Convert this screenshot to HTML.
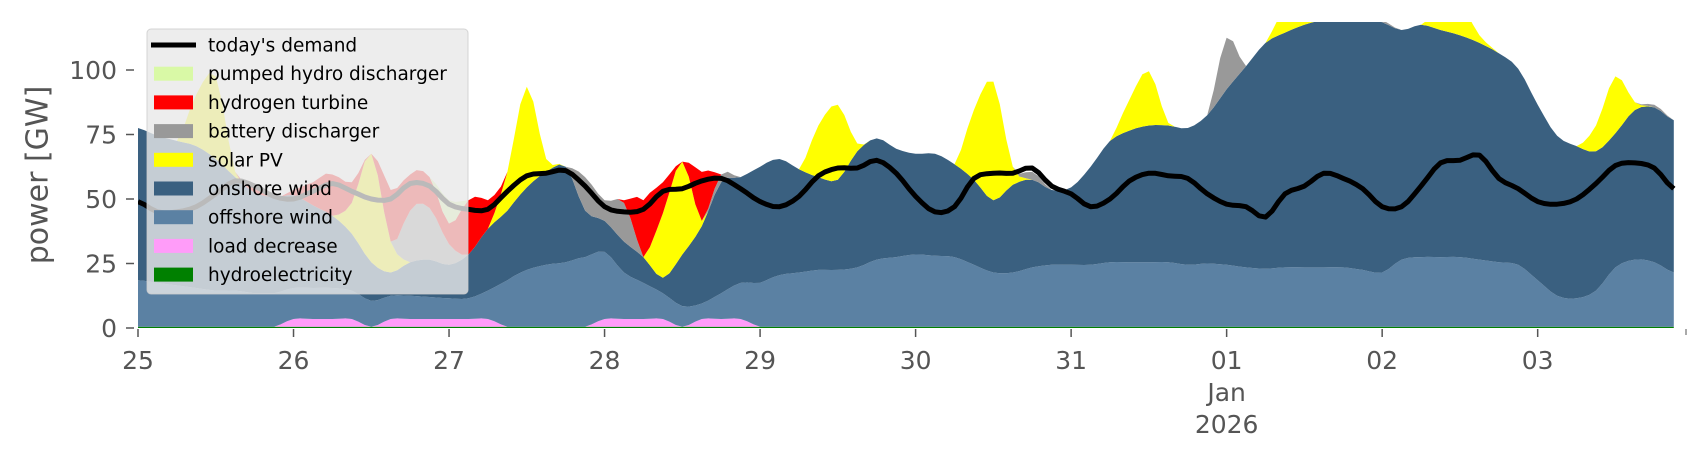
<!DOCTYPE html>
<html><head><meta charset="utf-8"><style>
html,body{margin:0;padding:0;background:#fff;}
svg{display:block;font-family:"DejaVu Sans","Liberation Sans",sans-serif;}
</style></head><body>
<svg id="chart" width="1706" height="460" viewBox="0 0 1706 460" xmlns="http://www.w3.org/2000/svg">
<defs><clipPath id="pc"><rect x="138" y="22" width="1549" height="306"/></clipPath></defs>
<g id="areas" clip-path="url(#pc)"></g>
<g id="demandg" clip-path="url(#pc)"></g>
<g id="axes"></g>
<text x="38" y="175" transform="rotate(-90 38 175)" font-size="30" fill="#555" text-anchor="middle" dominant-baseline="central">power [GW]</text>
<g id="legend"></g>
</svg>
<script>
const hours = [];
for (let i = 0; i < 80; i++) hours.push(i * 3);
const hydro = new Array(80).fill(0.5);
const loadDecrease = [0,0,0,0,0,0,0,0,3,3, 3,3,0,3,3,3,3,3,3,0, 0,0,0,0,3,3,3,3,0,3, 3,3,0,0,0,0,0,0,0,0, 0,0,0,0,0,0,0,0,0,0, 0,0,0,0,0,0,0,0,0,0, 0,0,0,0,0,0,0,0,0,0, 0,0,0,0,0,0,0,0,0,0];
const offshore = [18,17,16,15,14,14,13,13,12,12, 12,11,10,9,9,8.5,8,8,11,18, 22,24,25,27,26,18,14,10,8,6, 10,14,17,20,21,22,22,23,26,27, 28,27.5,27,24,21,21,23,24,24,24, 25,25,25,25,24,24.5,24,23,22.5,23, 23,23,23,22,21,26,27,27,27,26, 25,24,18,12,11,14,23,26,25,21];
const windTop = [77,74,72,70,65,58,52,50,48,44, 40,33,25,18,22,23,21,25,35,45, 54,60,62,45,38,30,24,16,28,36, 53,55,62,65,61,58,57,68,73,69, 67,67,63,57,49,55,57,53,54,62, 72,76,78,78,77,82,92,101,110,114, 117,119,120,120,118,115,117,115,113,110, 106,100,86,74,70,68,75,84,85,80];
const solar = [0,0,0,20,32,2,0,0,0,0, 0,12,42,12,0,0,0,0,0,15, 39,5,0,0,0,0,0,25,36,2, 0,0,0,0,0,20,29,3,0,0, 0,0,0,27,46,7,0,0,0,0, 0,12,21,1,0,0,0,0,0,10, 15,3,0,0,0,0,0,8,12,3, 0,0,0,0,0,10,22,3,0,0];
const battery = [0,0,0,0,0,0,0,0,0,0, 0,0,0,0,20,20,8,0,0,0, 0,0,0,13,8,15,0,0,0,0, 3,0,0,0,0,0,0,0,0,0, 0,0,0,0,0,0,3,0,0,0, 0,0,0,0,0,0,20,0,0,0, 0,0,2,2,1,0,0,0,0,0, 0,0,0,0,0,0,0,0,1,0];
const hydrogen = [0,0,0,0,0,0,3,0,2,9, 16,8,0,20,14,12,8,21,11,0, 0,0,0,0,0,1,22,12,0,19, 0,0,0,0,0,0,0,0,0,0, 0,0,0,0,0,0,0,0,0,0, 0,0,0,0,0,0,0,0,0,0, 0,0,0,0,0,0,0,0,0,0, 0,0,0,0,0,0,0,0,0,0];
const pumped = [0,0,0,0,0,0,0,0,0,0, 0,0,0,0,0,0,9,0,0,0, 0,0,0,0,0,0,0,0,0,0, 0,0,0,0,0,0,0,0,0,0, 0,0,0,0,0,0,0,0,0,0, 0,0,0,0,0,0,0,0,0,0, 0,0,0,0,0,0,0,0,0,0, 0,0,0,0,0,0,0,0,0,0];
const demand = [49,45,45,47,52,57,55,51,50,53, 56,53,50,50,56,55,48,46,46,53, 59,60,61,55,47,45,46,53,54,57, 58,54,49,47,51,59,62,62,65,60, 51,45,47,58,60,60,62,55,52,47, 50,57,60,59,58,52,48,47,43,52, 55,60,58,54,47,47,55,64,65,67, 58,54,49,48,50,56,63,64,62,54];
const yTicks = [0,25,50,75,100];
const xTickLabels = ["25","26","27","28","29","30","31","01","02","03"];

const NS = "http://www.w3.org/2000/svg";
function X(h){ return 138 + h * 6.48; }
function Y(v){ return 328 - v * 2.58; }
// Catmull-Rom resampling to hourly for smooth rendering
function resample(arr){
  const out = [], n = arr.length;
  for (let k = 0; k <= (n-1)*3; k++) {
    const t = k/3, i = Math.min(Math.floor(t), n-2), f = t - i;
    const p0 = arr[Math.max(i-1,0)], p1 = arr[i], p2 = arr[i+1], p3 = arr[Math.min(i+2,n-1)];
    const v = 0.5*((2*p1) + (-p0+p2)*f + (2*p0-5*p1+4*p2-p3)*f*f + (-p0+3*p1-3*p2+p3)*f*f*f);
    out.push(Math.max(0, v));
  }
  return out;
}
const fineHours = [];
for (let k = 0; k <= 79*3; k++) fineHours.push(k);
const onshore = windTop.map((t,i)=>Math.max(0, t - offshore[i]));
const layers = [
  {name:"hydroelectricity", vals:hydro, color:"#008000"},
  {name:"load decrease", vals:loadDecrease, color:"#ff9cf9"},
  {name:"offshore wind", vals:offshore, color:"#5b81a3"},
  {name:"onshore wind", vals:onshore, color:"#3a6080"},
  {name:"solar PV", vals:solar, color:"#ffff00"},
  {name:"battery discharger", vals:battery, color:"#999999"},
  {name:"hydrogen turbine", vals:hydrogen, color:"#ff0000"},
  {name:"pumped hydro discharger", vals:pumped, color:"#d9f9a6"}
];
const areas = document.getElementById("areas");
const N = fineHours.length;
let base = new Array(N).fill(0);
layers.forEach(L=>{
  const fv = resample(L.vals);
  const top = base.map((b,i)=>b + fv[i]);
  let d = "M" + fineHours.map((h,i)=>X(h).toFixed(1)+","+Y(top[i]).toFixed(1)).join(" L");
  for (let i = N-1; i >= 0; i--) d += " L" + X(fineHours[i]).toFixed(1) + "," + Y(base[i]).toFixed(1);
  d += "Z";
  const p = document.createElementNS(NS,"path");
  p.setAttribute("d", d);
  p.setAttribute("fill", L.color);
  
  
  areas.appendChild(p);
  base = top;
});
const fd = resample(demand);
const dl = document.createElementNS(NS,"polyline");
dl.setAttribute("points", fineHours.map((h,i)=>X(h).toFixed(1)+","+Y(fd[i]).toFixed(1)).join(" "));
dl.setAttribute("fill","none"); dl.setAttribute("stroke","#000"); dl.setAttribute("stroke-width","5");
dl.setAttribute("stroke-linejoin","round");


document.getElementById("demandg").appendChild(dl);

const axes = document.getElementById("axes");
yTicks.forEach(v=>{
  const l = document.createElementNS(NS,"line");
  l.setAttribute("x1",126); l.setAttribute("x2",134); l.setAttribute("y1",Y(v)); l.setAttribute("y2",Y(v));
  l.setAttribute("stroke","#555"); l.setAttribute("stroke-width","1.5");
  
  
  axes.appendChild(l);
  const t = document.createElementNS(NS,"text");
  t.setAttribute("x",117); t.setAttribute("y",Y(v)+9); t.setAttribute("text-anchor","end");
  t.setAttribute("font-size","25"); t.setAttribute("fill","#555");
  t.textContent = v;
  
  
  axes.appendChild(t);
});
xTickLabels.forEach((s,i)=>{
  const x = X(i*24);
  const l = document.createElementNS(NS,"line");
  l.setAttribute("x1",x); l.setAttribute("x2",x); l.setAttribute("y1",329); l.setAttribute("y2",337);
  l.setAttribute("stroke","#555"); l.setAttribute("stroke-width","1.5");
  
  
  axes.appendChild(l);
  const t = document.createElementNS(NS,"text");
  t.setAttribute("x",x); t.setAttribute("y",369); t.setAttribute("text-anchor","middle");
  t.setAttribute("font-size","25"); t.setAttribute("fill","#555");
  t.textContent = s;
  
  
  axes.appendChild(t);
  if (s === "01") {
    ["Jan","2026"].forEach((w,k)=>{
      const t2 = document.createElementNS(NS,"text");
      t2.setAttribute("x",x); t2.setAttribute("y",401+k*32); t2.setAttribute("text-anchor","middle");
      t2.setAttribute("font-size","25"); t2.setAttribute("fill","#555");
      t2.textContent = w;
      
      
      axes.appendChild(t2);
    });
  }
});
const endTick = document.createElementNS(NS,"line");
endTick.setAttribute("x1",1686); endTick.setAttribute("x2",1686); endTick.setAttribute("y1",329); endTick.setAttribute("y2",335);
endTick.setAttribute("stroke","#555");


axes.appendChild(endTick);

const legend = document.getElementById("legend");
const bg = document.createElementNS(NS,"rect");
bg.setAttribute("x",147); bg.setAttribute("y",29); bg.setAttribute("width",321); bg.setAttribute("height",265);
bg.setAttribute("rx",4); bg.setAttribute("fill","#e8e8e8"); bg.setAttribute("fill-opacity","0.8");
bg.setAttribute("stroke","#cccccc"); bg.setAttribute("stroke-opacity","0.8");


legend.appendChild(bg);
const legendEntries = [{name:"today's demand", color:"#000", line:true}].concat(layers.slice().reverse());
legendEntries.forEach((e,k)=>{
  const cy = 45 + k*28.7;
  let h;
  if (e.line) {
    h = document.createElementNS(NS,"line");
    h.setAttribute("x1",151); h.setAttribute("x2",196); h.setAttribute("y1",cy); h.setAttribute("y2",cy);
    h.setAttribute("stroke","#000"); h.setAttribute("stroke-width","5");
  } else {
    h = document.createElementNS(NS,"rect");
    h.setAttribute("x",154); h.setAttribute("y",cy-7); h.setAttribute("width",39); h.setAttribute("height",14);
    h.setAttribute("fill",e.color);
  }
  
  
  legend.appendChild(h);
  const t = document.createElementNS(NS,"text");
  t.setAttribute("x",208); t.setAttribute("y",cy+6.5); t.setAttribute("font-size","18.5"); t.setAttribute("fill","#000");
  t.textContent = e.name;
  
  
  legend.appendChild(t);
});
</script>
</body></html>
